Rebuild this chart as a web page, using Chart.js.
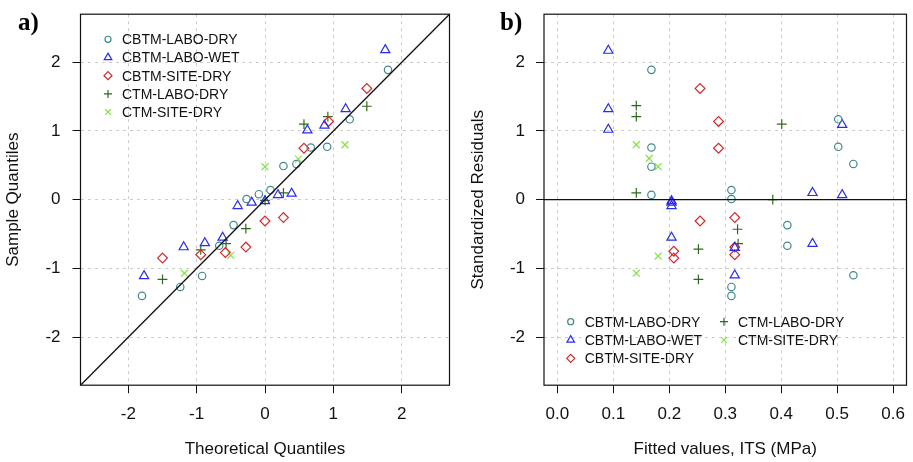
<!DOCTYPE html>
<html><head><meta charset="utf-8">
<script src="https://cdn.jsdelivr.net/npm/chart.js@4.4.1/dist/chart.umd.min.js"></script>
<style>
html,body{margin:0;padding:0;background:#fff;overflow:hidden;}
#wrapA{position:absolute;left:0;top:0;width:456px;height:462px;}
#wrapB{position:absolute;left:456px;top:0;width:457px;height:462px;}
</style></head><body>
<div id="wrapA"><canvas id="cA"></canvas></div>
<div id="wrapB"><canvas id="cB"></canvas></div>
<script>
// ---------- series ----------
const seriesNames = ['CBTM-LABO-DRY','CBTM-LABO-WET','CBTM-SITE-DRY','CTM-LABO-DRY','CTM-SITE-DRY'];

// ---------- tick labels ----------
const qqTicks = [-2, -1, 0, 1, 2];
const residTicks = [-2, -1, 0, 1, 2];
const fittedTicks = [0.0, 0.1, 0.2, 0.3, 0.4, 0.5, 0.6];

// ---------- panel a) normal Q-Q ----------
const theoCbtmLaboDry   = [-1.80,-1.24,-0.92,-0.67,-0.46,-0.27,-0.09,0.08,0.27,0.46,0.67,0.91,1.24,1.80];
const sampleCbtmLaboDry = [-1.40,-1.27,-1.11,-0.67,-0.37,0.01,0.08,0.14,0.49,0.52,0.76,0.77,1.17,1.89];
const theoCbtmLaboWet   = [-1.77,-1.19,-0.88,-0.62,-0.40,-0.195,0.0,0.19,0.39,0.62,0.87,1.18,1.76];
const sampleCbtmLaboWet = [-1.11,-0.69,-0.63,-0.55,-0.09,-0.04,-0.02,0.07,0.09,1.01,1.08,1.32,2.18];
const theoCbtmSiteDry   = [-1.50,-0.94,-0.58,-0.28,0.0,0.27,0.57,0.93,1.49];
const sampleCbtmSiteDry = [-0.85,-0.80,-0.77,-0.69,-0.31,-0.26,0.75,1.14,1.62];
const theoCtmLaboDry    = [-1.50,-0.94,-0.57,-0.28,0.0,0.27,0.57,0.92,1.49];
const sampleCtmLaboDry  = [-1.16,-0.73,-0.64,-0.42,-0.01,0.10,1.10,1.21,1.36];
const theoCtmSiteDry    = [-1.18,-0.50,0.0,0.49,1.17];
const sampleCtmSiteDry  = [-1.07,-0.81,0.48,0.59,0.80];
const refLineX = [-2.7, 2.7];
const refLineY = [-2.7, 2.7];

// ---------- panel b) residuals vs fitted ----------
const fitCbtmLaboDry   = [0.168,0.168,0.168,0.168,0.502,0.502,0.529,0.311,0.311,0.411,0.411,0.529,0.311,0.311];
const resCbtmLaboDry   = [1.89,0.76,0.48,0.07,1.17,0.77,0.52,0.14,0.01,-0.37,-0.67,-1.10,-1.27,-1.40];
const fitCbtmLaboWet   = [0.091,0.091,0.091,0.509,0.456,0.509,0.204,0.204,0.204,0.204,0.317,0.456,0.317];
const resCbtmLaboWet   = [2.17,1.32,1.02,1.09,0.10,0.07,-0.02,-0.04,-0.09,-0.55,-0.70,-0.64,-1.10];
const fitCbtmSiteDry   = [0.255,0.288,0.288,0.255,0.317,0.208,0.208,0.317,0.317];
const resCbtmSiteDry   = [1.62,1.14,0.75,-0.31,-0.26,-0.75,-0.85,-0.80,-0.69];
const fitCtmLaboDry    = [0.141,0.141,0.401,0.141,0.385,0.322,0.323,0.252,0.252];
const resCtmLaboDry    = [1.37,1.21,1.10,0.10,0.0,-0.43,-0.64,-0.72,-1.16];
const fitCtmSiteDry    = [0.141,0.164,0.180,0.180,0.141];
const resCtmSiteDry    = [0.80,0.60,0.48,-0.82,-1.07];
const zeroLineX = [-0.024, 0.624];
const zeroLineY = [0, 0];

// ---------- styles ----------
const FONT = "'Liberation Sans', Arial, Helvetica, sans-serif";
const seriesColors  = ['#3f8a8a', '#2b2bf2', '#d8262b', '#2f6a1c', '#7ee63c'];
const seriesSymbols = ['circle', 'triangle', 'rectRot', 'cross', 'crossRot'];
const seriesRadii   = [3.7, 5.3, 4.9, 4.9, 4.9];

Chart.defaults.font.family = FONT;
Chart.defaults.color = '#111';

function zip(xs, ys) { return xs.map((x, i) => ({x: x, y: ys[i]})); }

function pointSet(i, xs, ys) {
  return {
    type: 'scatter', label: seriesNames[i], data: zip(xs, ys),
    pointStyle: seriesSymbols[i], pointRadius: seriesRadii[i], pointHoverRadius: seriesRadii[i],
    borderColor: seriesColors[i], backgroundColor: 'rgba(0,0,0,0)',
    pointBorderColor: seriesColors[i], pointBackgroundColor: 'rgba(0,0,0,0)',
    borderWidth: 1.2, pointBorderWidth: 1.2, showLine: false
  };
}
function lineSet(xs, ys) {
  return {type: 'line', label: '_ref', data: zip(xs, ys), borderColor: '#111', borderWidth: 1.3,
          pointRadius: 0, showLine: true, fill: false, tension: 0};
}

function axis(opts) {
  return {
    type: 'linear', position: opts.position, min: opts.min, max: opts.max,
    afterBuildTicks: s => { s.ticks = opts.ticks.map(v => ({value: v})); },
    afterFit: s => {
      if (opts.position === 'left') s.width = opts.size; else s.height = opts.size;
      s.paddingTop = 0; s.paddingBottom = 0; s.paddingLeft = 0; s.paddingRight = 0;
    },
    ticks: {
      autoSkip: false, maxRotation: 0, minRotation: 0, color: '#111',
      font: {family: FONT, size: 17}, padding: opts.tickPad,
      callback: v => opts.fmt(v)
    },
    grid: {
      color: '#cccccc', lineWidth: 1, drawTicks: true, tickLength: 8,
      tickColor: '#111', tickWidth: 1, tickBorderDash: []
    },
    border: {display: false, dash: [3, 4]},
    title: {
      display: true, text: opts.title, color: '#111',
      font: {family: FONT, size: 17}, padding: opts.titlePad
    }
  };
}

function symbolAt(ctx, i, x, y, scale) {
  const r = seriesRadii[i] * scale;
  if (Chart.helpers && Chart.helpers.drawPoint) {
    ctx.save();
    ctx.strokeStyle = seriesColors[i]; ctx.fillStyle = 'rgba(0,0,0,0)'; ctx.lineWidth = 1.2;
    Chart.helpers.drawPoint(ctx, {pointStyle: seriesSymbols[i], radius: r, borderWidth: 1.2, rotation: 0}, x, y);
    ctx.restore();
  }
}

function panelPlugin(label, labelX, legendItems) {
  return {
    id: 'panel_' + label,
    afterDraw(chart) {
      const ctx = chart.ctx, a = chart.chartArea;
      ctx.save();
      ctx.strokeStyle = '#111'; ctx.lineWidth = 1.2; ctx.setLineDash([]);
      ctx.strokeRect(a.left, a.top, a.right - a.left, a.bottom - a.top);
      ctx.fillStyle = '#000';
      ctx.font = "bold 25px 'Liberation Serif', 'Times New Roman', serif";
      ctx.textBaseline = 'alphabetic'; ctx.textAlign = 'left';
      ctx.fillText(label, labelX, 30);
      ctx.font = "14px " + FONT; ctx.textBaseline = 'middle'; ctx.fillStyle = '#111';
      legendItems.forEach(it => {
        symbolAt(ctx, it.i, a.left + it.dx, a.top + it.dy, 0.82);
        ctx.fillStyle = '#111';
        ctx.fillText(seriesNames[it.i], a.left + it.dx + 14, a.top + it.dy + 1);
      });
      ctx.restore();
    }
  };
}

// ---------- chart a ----------
new Chart(document.getElementById('cA'), {
  type: 'scatter',
  data: {datasets: [
    lineSet(refLineX, refLineY),
    pointSet(0, theoCbtmLaboDry, sampleCbtmLaboDry),
    pointSet(1, theoCbtmLaboWet, sampleCbtmLaboWet),
    pointSet(2, theoCbtmSiteDry, sampleCbtmSiteDry),
    pointSet(3, theoCtmLaboDry, sampleCtmLaboDry),
    pointSet(4, theoCtmSiteDry, sampleCtmSiteDry)
  ]},
  options: {
    responsive: true, maintainAspectRatio: false, animation: false, devicePixelRatio: 1,
    layout: {padding: {top: 14.2, right: 6.5, left: 0, bottom: 0}},
    plugins: {legend: {display: false}, tooltip: {enabled: false}},
    scales: {
      x: axis({position: 'bottom', min: -2.7, max: 2.7, ticks: qqTicks, size: 76.8, tickPad: 11,
               fmt: v => String(v), title: 'Theoretical Quantiles', titlePad: {top: 0, bottom: 2}}),
      y: axis({position: 'left', min: -2.7, max: 2.7, ticks: qqTicks, size: 80.5, tickPad: 12,
               fmt: v => String(v), title: 'Sample Quantiles', titlePad: {top: 3.2, bottom: 0}})
    }
  },
  plugins: [panelPlugin('a)', 18, [
    {i: 0, dx: 27.5, dy: 25.1}, {i: 1, dx: 27.5, dy: 43.3}, {i: 2, dx: 27.5, dy: 61.5},
    {i: 3, dx: 27.5, dy: 79.7}, {i: 4, dx: 27.5, dy: 97.9}
  ])]
});

// ---------- chart b ----------
new Chart(document.getElementById('cB'), {
  type: 'scatter',
  data: {datasets: [
    lineSet(zeroLineX, zeroLineY),
    pointSet(0, fitCbtmLaboDry, resCbtmLaboDry),
    pointSet(1, fitCbtmLaboWet, resCbtmLaboWet),
    pointSet(2, fitCbtmSiteDry, resCbtmSiteDry),
    pointSet(3, fitCtmLaboDry, resCtmLaboDry),
    pointSet(4, fitCtmSiteDry, resCtmSiteDry)
  ]},
  options: {
    responsive: true, maintainAspectRatio: false, animation: false, devicePixelRatio: 1,
    layout: {padding: {top: 14.2, right: 0.6, left: 0, bottom: 0}},
    plugins: {legend: {display: false}, tooltip: {enabled: false}},
    scales: {
      x: axis({position: 'bottom', min: -0.024, max: 0.624, ticks: fittedTicks, size: 76.8, tickPad: 11,
               fmt: v => v.toFixed(1), title: 'Fitted values, ITS (MPa)', titlePad: {top: 0, bottom: 2}}),
      y: axis({position: 'left', min: -2.7, max: 2.7, ticks: residTicks, size: 88, tickPad: 11,
               fmt: v => String(v), title: 'Standardized Residuals', titlePad: {top: 11.8, bottom: 0}})
    }
  },
  plugins: [panelPlugin('b)', 44, [
    {i: 0, dx: 26.7, dy: 307.5}, {i: 1, dx: 26.7, dy: 325.8}, {i: 2, dx: 26.7, dy: 344.1},
    {i: 3, dx: 180, dy: 307.5}, {i: 4, dx: 180, dy: 325.8}
  ])]
});
</script>
</body></html>
